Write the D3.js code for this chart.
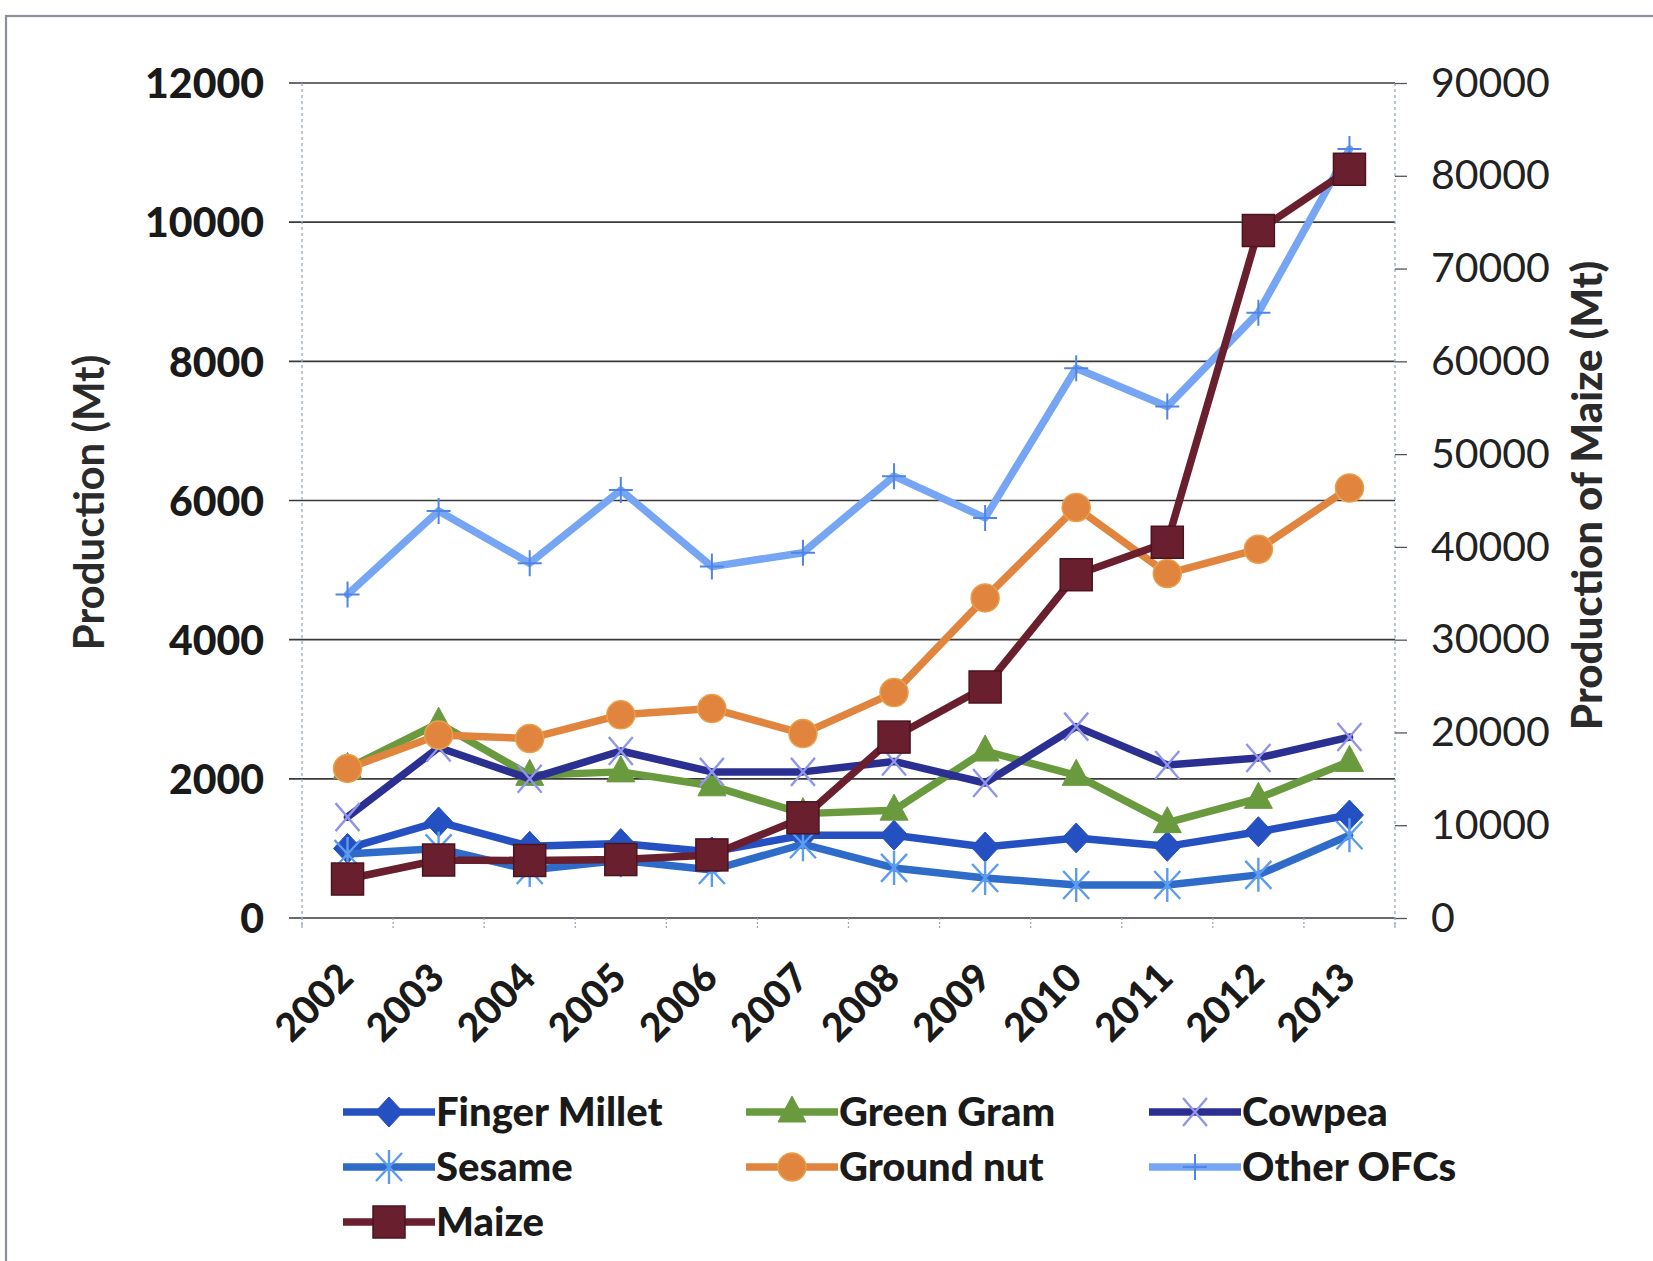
<!DOCTYPE html>
<html>
<head>
<meta charset="utf-8">
<script src="https://cdn.jsdelivr.net/npm/d3@7"></script>
<style>
  body { margin: 0; background: #fff; }
  svg { display: block; }
</style>
</head>
<body>
<svg id="chart" width="1653" height="1261"></svg>
<script>
// Production of oilseeds and food crops (Mt), 2002–2013; maize on the secondary axis
const years = ["2002","2003","2004","2005","2006","2007","2008","2009","2010","2011","2012","2013"];

const fingerMillet = [1000, 1380, 1030, 1070, 950, 1190, 1190, 1020, 1150, 1030, 1240, 1480];
const greenGram    = [2150, 2800, 2050, 2100, 1900, 1500, 1550, 2400, 2050, 1370, 1720, 2250];
const cowpea       = [1450, 2450, 2000, 2400, 2100, 2100, 2250, 1940, 2750, 2200, 2300, 2600];
const sesame       = [920, 1000, 690, 830, 690, 1060, 720, 575, 475, 475, 620, 1190];
const groundNut    = [2150, 2630, 2580, 2920, 3010, 2650, 3240, 4600, 5900, 4950, 5300, 6180];
const otherOFCs    = [4650, 5850, 5100, 6150, 5050, 5250, 6350, 5750, 7900, 7350, 8700, 11050];
const maize        = [4200, 6250, 6200, 6300, 6800, 10800, 19500, 24900, 37000, 40500, 74100, 80700];

const leftTicks  = [0, 2000, 4000, 6000, 8000, 10000, 12000];
const rightTicks = [0, 10000, 20000, 30000, 40000, 50000, 60000, 70000, 80000, 90000];

const leftTitle  = "Production (Mt)";
const rightTitle = "Production of Maize (Mt)";

// series in drawing order (maize on the secondary axis, drawn last)
const series = [
  { name: "Finger Millet", values: fingerMillet, axis: "left",  color: "#2450c2", marker: "diamond",  mcolor: "#2450c2" },
  { name: "Green Gram",    values: greenGram,    axis: "left",  color: "#6a9a3e", marker: "triangle", mcolor: "#6a9a3e" },
  { name: "Cowpea",        values: cowpea,       axis: "left",  color: "#2c2f92", marker: "x",        mcolor: "#8f96ea" },
  { name: "Sesame",        values: sesame,       axis: "left",  color: "#2f6cc9", marker: "star",     mcolor: "#5c9cf0" },
  { name: "Ground nut",    values: groundNut,    axis: "left",  color: "#e0843e", marker: "circle",   mcolor: "#e0843e" },
  { name: "Other OFCs",    values: otherOFCs,    axis: "left",  color: "#76a6f3", marker: "plus",     mcolor: "#4f86e6" },
  { name: "Maize",         values: maize,        axis: "right", color: "#6a1f2e", marker: "square",   mcolor: "#6a1f2e" }
];

// legend layout: three columns, entries filled row by row
const legendOrder = ["Finger Millet", "Green Gram", "Cowpea", "Sesame", "Ground nut", "Other OFCs", "Maize"];

const svg = d3.select("#chart");
const plot = { left: 302, right: 1395, top: 83, bottom: 918 };
const fontStack = "Lato, 'Open Sans', sans-serif";
const lineWidth = 7.5;

const x = d3.scaleBand().domain(years).range([plot.left, plot.right]);
const yL = d3.scaleLinear().domain([0, 12000]).range([plot.bottom, plot.top]);
const yR = d3.scaleLinear().domain([0, 90000]).range([plot.bottom, plot.top]);
const cx = d => x(d) + x.bandwidth() / 2;
const plain = d3.format("d");

// outer frame
svg.append("rect")
  .attr("x", 6).attr("y", 16).attr("width", 1700).attr("height", 1300)
  .attr("fill", "none").attr("stroke", "#8a8f99").attr("stroke-width", 2.2);

// horizontal gridlines for the left axis
const leftAxis = d3.axisLeft(yL).tickValues(leftTicks).tickFormat(plain).tickSize(0).tickPadding(0);
const gL = svg.append("g").attr("transform", `translate(${plot.left},0)`);
gL.selectAll(".grid").data(leftTicks).join("line")
  .attr("x1", -13).attr("x2", plot.right - plot.left)
  .attr("y1", d => yL(d)).attr("y2", d => yL(d))
  .attr("stroke", "#3a3a3a").attr("stroke-width", 1.6);
gL.call(leftAxis).call(g => g.select(".domain").remove());
gL.selectAll(".tick text")
  .attr("x", -38)
  .attr("dy", "0.36em")
  .attr("fill", "#1a1a1a")
  .style("font-family", fontStack)
  .style("font-weight", 900)
  .style("font-size", "41px")
  .attr("text-anchor", "end");

// dotted vertical axis lines
[plot.left, plot.right].forEach(px => {
  svg.append("line")
    .attr("x1", px).attr("x2", px).attr("y1", plot.top).attr("y2", plot.bottom + 8)
    .attr("stroke", "#9aaabb").attr("stroke-width", 1.3).attr("stroke-dasharray", "3,3");
});

// right axis with outward ticks
const rightAxis = d3.axisRight(yR).tickValues(rightTicks).tickFormat(plain).tickSize(12).tickPadding(24);
const gR = svg.append("g").attr("transform", `translate(${plot.right},0)`);
gR.call(rightAxis).call(g => g.select(".domain").remove());
gR.selectAll(".tick line").attr("stroke", "#555").attr("stroke-width", 1.3);
gR.selectAll(".tick text")
  .attr("fill", "#222")
  .style("font-family", fontStack)
  .style("font-weight", 400)
  .style("font-size", "41px");

// x axis: category ticks at band edges, rotated labels
const xAxis = d3.axisBottom(x).tickSize(0).tickPadding(0);
const gX = svg.append("g").attr("transform", `translate(0,${plot.bottom})`);
gX.call(xAxis).call(g => g.select(".domain").remove());
gX.selectAll(".tick text")
  .attr("text-anchor", "end")
  .attr("transform", "translate(8,62) rotate(-45)")
  .attr("dy", 0)
  .attr("fill", "#1a1a1a")
  .style("font-family", fontStack)
  .style("font-weight", 900)
  .style("font-size", "39px");
const edges = years.map(d => x(d)).concat([plot.right]);
svg.append("g").selectAll("line").data(edges).join("line")
  .attr("x1", d => d).attr("x2", d => d)
  .attr("y1", plot.bottom).attr("y2", plot.bottom + 12)
  .attr("stroke", "#9aaabb").attr("stroke-width", 1.3).attr("stroke-dasharray", "2,2");

// axis titles
svg.append("text")
  .attr("transform", `translate(104,${(plot.top + plot.bottom) / 2 + 2}) rotate(-90)`)
  .attr("text-anchor", "middle")
  .attr("fill", "#2a2a2a")
  .style("font-family", fontStack)
  .style("font-weight", 700)
  .style("font-size", "42px")
  .text(leftTitle);
svg.append("text")
  .attr("transform", `translate(1602,${(plot.top + plot.bottom) / 2 - 5}) rotate(-90)`)
  .attr("text-anchor", "middle")
  .attr("fill", "#2a2a2a")
  .style("font-family", fontStack)
  .style("font-weight", 900)
  .style("font-size", "42px")
  .text(rightTitle);

// marker drawing
function drawMarker(sel, s) {
  const c = s.mcolor;
  switch (s.marker) {
    case "diamond":
      sel.append("path").attr("d", "M0,-15L14,0L0,15L-14,0Z").attr("fill", c).attr("stroke", c).attr("stroke-width", 1);
      break;
    case "triangle":
      sel.append("path").attr("d", "M0,-16L14,10L-14,10Z").attr("fill", c).attr("stroke", c).attr("stroke-width", 1);
      break;
    case "circle":
      sel.append("circle").attr("r", 14).attr("fill", c).attr("stroke", "#e8a04a").attr("stroke-width", 1.5);
      break;
    case "square":
      sel.append("rect").attr("x", -16).attr("y", -16).attr("width", 32).attr("height", 32)
        .attr("fill", c).attr("stroke", "#4a1420").attr("stroke-width", 1.5);
      break;
    case "x":
      sel.append("path").attr("d", "M-12,-14L12,14M12,-14L-12,14").attr("stroke", c).attr("stroke-width", 2.4).attr("fill", "none");
      break;
    case "star":
      sel.append("path").attr("d", "M-13,-14L13,14M13,-14L-13,14M0,-17L0,17").attr("stroke", c).attr("stroke-width", 2.4).attr("fill", "none");
      break;
    case "plus":
      sel.append("path").attr("d", "M0,-13L0,13M-12,0L12,0").attr("stroke", c).attr("stroke-width", 2).attr("fill", "none");
      break;
  }
}

// series lines and markers
const gS = svg.append("g");
series.forEach(s => {
  const yS = s.axis === "left" ? yL : yR;
  const line = d3.line().x((d, i) => cx(years[i])).y(d => yS(d));
  const g = gS.append("g");
  g.append("path").datum(s.values).attr("d", line)
    .attr("fill", "none").attr("stroke", s.color).attr("stroke-width", lineWidth)
    .attr("stroke-linejoin", "round").attr("stroke-linecap", "round");
  s.values.forEach((v, i) => {
    const m = g.append("g").attr("transform", `translate(${cx(years[i])},${yS(v)})`);
    drawMarker(m, s);
  });
});

// legend
const legendCols = [343, 746, 1149];
const legendRows = [1112, 1167, 1222];
legendOrder.forEach((name, k) => {
  const s = series.find(d => d.name === name);
  const lx = legendCols[k % 3], ly = legendRows[Math.floor(k / 3)];
  const g = svg.append("g").attr("transform", `translate(${lx},${ly})`);
  g.append("line").attr("x1", 0).attr("x2", 92).attr("y1", 0).attr("y2", 0)
    .attr("stroke", s.color).attr("stroke-width", lineWidth);
  drawMarker(g.append("g").attr("transform", "translate(46,0)"), s);
  g.append("text").attr("x", 93).attr("y", 0).attr("dy", "0.35em")
    .attr("fill", "#1a1a1a")
    .style("font-family", fontStack)
    .style("font-weight", 900)
    .style("font-size", "40px")
    .text(s.name);
});
</script>
</body>
</html>
